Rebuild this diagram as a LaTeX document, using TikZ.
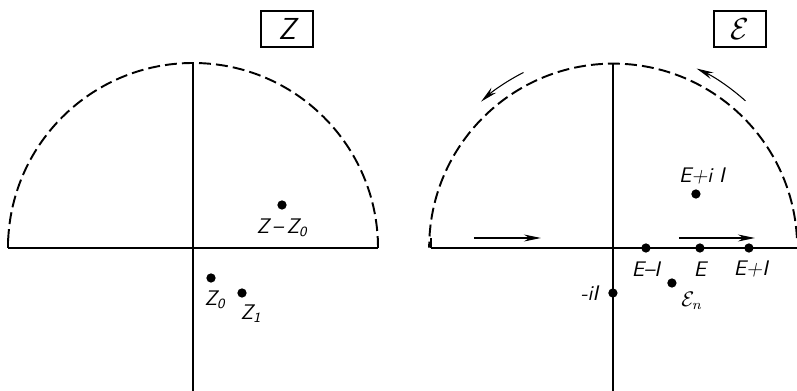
\documentclass[tikz,border=0pt]{standalone}
\usetikzlibrary{arrows.meta}
\begin{document}
\begin{tikzpicture} [x=0.02cm, y=0.02cm,
    >={Stealth[length=3.4mm, width=1.4mm]},
    line width=1.2pt,
    every node/.style={font=\large\sffamily\itshape},
    pt/.style={circle, fill, draw, inner sep=0pt, minimum size=1.4mm},
    lbl/.style={inner sep=1pt},
    plane/.style={draw, line width=1pt, minimum width=1.04cm, minimum height=0.72cm, inner sep=0pt, font=\LARGE\sffamily\itshape},
    contour/.style={dash pattern=on 6.8pt off 2.9pt, line width=1.1pt},
    flow/.style={->, line width=0.6pt}]
  \useasboundingbox (-193,-143) rectangle (604,248);

  % Z plane
  \coordinate (L) at (-185,0);
  \coordinate (R) at (185,0);
  \coordinate (T) at (0,185);
  \coordinate (B) at (0,-143);
  \draw (L) -- (R);
  \draw (T) -- (B);
  \draw (L) -- ++(0,10);
  \draw (R) -- ++(0,10);
  \draw[contour] (R) arc (0:180:185);
  \node[plane] (Zbox) at (94,219) {Z};

  \node[pt] (ZZ0) at (89,43) {};
  \node[lbl] (ZZ0l) at (89,20) {Z\,--\,Z\textsubscript{0}};
  \node[pt] (Z0) at (18,-30) {};
  \node[lbl] (Z0l) at (22,-52) {Z\textsubscript{0}};
  \node[pt] (Z1) at (49,-45) {};
  \node[lbl] (Z1l) at (58,-66) {Z\textsubscript{1}};

  % E plane
  \begin{scope}[xshift=8.4cm]
    \coordinate (EL) at (-182,0);
    \coordinate (ER) at (190,0);
    \coordinate (ET) at (0,185);
    \coordinate (EB) at (0,-143);
    \draw (EL) -- (ER);
    \draw (ET) -- (EB);
    \draw (EL) -- ++(0,10);
    \draw[contour] (184,10) arc (3:180:184);
    \node[plane] (Ebox) at (127,219) {$\mathcal{E}$};

    \node[pt] (EmI) at (33,0) {};
    \node[lbl] (EmIl) at (33,-21) {E--I};
    \node[pt] (E) at (87,0) {};
    \node[lbl] (El) at (87,-21) {E};
    \node[pt] (EpI) at (136,0) {};
    \node[lbl] (EpIl) at (138,-21) {E+I};
    \node[pt] (miI) at (0,-45) {};
    \node[lbl, anchor=east] (miIl) at (-12,-45) {-iI};
    \node[pt] (En) at (59,-35) {};
    \node[lbl] (Enl) at (79,-53) {$\mathcal{E}_n$};
    \node[pt] (EiI) at (83,54) {};
    \node[lbl] (EiIl) at (89,72) {E+i I};

    \coordinate (a1) at (-139,10);
    \coordinate (a2) at (-72,10);
    \coordinate (a3) at (66,10);
    \coordinate (a4) at (142,10);
    \draw[flow] (a1) -- (a2);
    \draw[flow] (a3) -- (a4);
    \draw[flow] (117:197) arc (117:132:197);
    \draw[flow] (48:198) arc (48:65:198);
  \end{scope}
\end{tikzpicture}
\end{document}
